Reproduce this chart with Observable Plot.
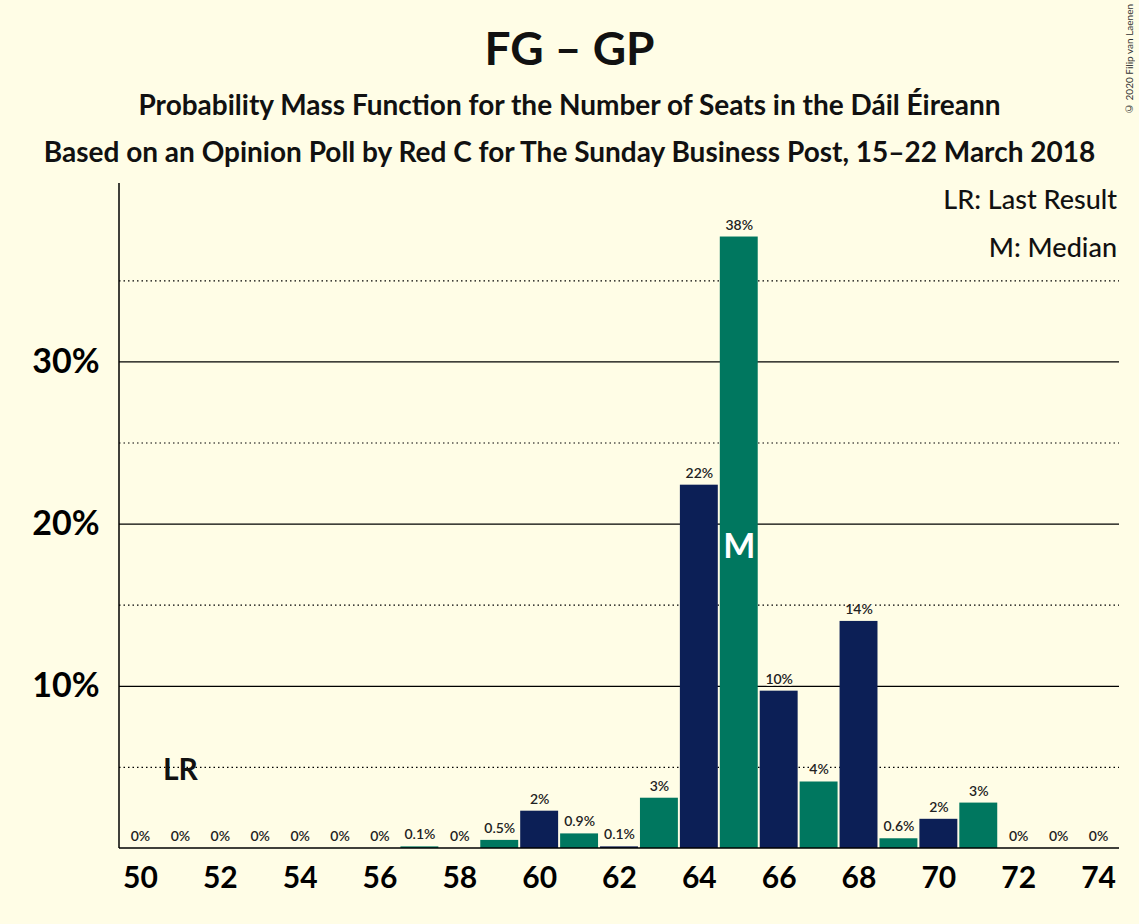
<!DOCTYPE html>
<html><head><meta charset="utf-8">
<script src="https://cdn.jsdelivr.net/npm/d3@7"></script>
<script src="https://cdn.jsdelivr.net/npm/@observablehq/plot@0.6"></script>
<style>
body{margin:0;background:#fffde6;font-family:Lato,sans-serif;}
#wrap{position:relative;width:1139px;height:924px;overflow:hidden}
.t{position:absolute;left:0;width:1139px;text-align:center;font-weight:bold;color:#111}
#copy{position:absolute;right:4px;top:4px;writing-mode:vertical-rl;transform:rotate(180deg);font-size:10px;color:#333}
#chart{position:absolute;left:0;top:175px}
</style></head><body>
<div id="wrap">
<div class="t" style="top:20px;font-size:46px">FG – GP</div>
<div class="t" style="top:87px;font-size:28px">Probability Mass Function for the Number of Seats in the Dáil Éireann</div>
<div class="t" style="top:134px;font-size:28px">Based on an Opinion Poll by Red C for The Sunday Business Post, 15–22 March 2018</div>
<div id="copy">© 2020 Filip van Laenen</div>
<div id="chart"></div>
</div>
<script>
const seats = d3.range(50, 75);
const probs = [0,0,0,0,0,0,0,0.1,0,0.5,2.3,0.9,0.1,3.1,22.4,37.7,9.7,4.1,14.0,0.6,1.8,2.8,0,0,0];
const labels = ["0%","0%","0%","0%","0%","0%","0%","0.1%","0%","0.5%","2%","0.9%","0.1%","3%","22%","38%","10%","4%","14%","0.6%","2%","3%","0%","0%","0%"];
const lastResult = 51;
const median = 65;
const solidTicks = [10, 20, 30];
const dottedTicks = [5, 15, 25, 35];

const data = seats.map((s, i) => ({s, p: probs[i], lab: labels[i]}));
const navy = "#0c1f56", teal = "#00775f";

const chart = Plot.plot({
  width: 1139, height: 749,
  marginLeft: 119, marginRight: 20, marginTop: 8, marginBottom: 76,
  style: {background: "transparent", fontFamily: "Lato, sans-serif", overflow: "visible"},
  x: {type: "band", domain: seats, range: [119, 1119], padding: 0.05, round: false, label: null, axis: null},
  y: {domain: [0, 41], label: null, axis: null},
  marks: [
    Plot.ruleY(dottedTicks, {stroke: "#000", strokeDasharray: "1.5,3", strokeWidth: 1.2}),
    Plot.ruleY(solidTicks, {stroke: "#000", strokeWidth: 1.3}),
    Plot.barY(data, {x: "s", y: "p", fill: d => d.s % 2 === 0 ? navy : teal}),
    Plot.text(data, {x: "s", y: "p", text: "lab", dy: -12, fontSize: 14, fontWeight: 600, fill: "#222",
      stroke: "#fffde6", strokeWidth: 3, paintOrder: "stroke"}),
    Plot.text([median], {x: d => d, y: 18.6, text: ["M"], fill: "white", fontSize: 34, fontWeight: "bold"}),
    Plot.text([lastResult], {x: d => d, y: 4.8, text: ["LR"], fill: "#111", fontSize: 30, fontWeight: "bold"}),
    Plot.axisY({ticks: solidTicks, tickFormat: d => d + "%", tickSize: 0, tickPadding: 20, fontSize: 34, fontWeight: "bold", label: null}),
    Plot.axisX({tickFormat: d => d % 2 === 0 ? d : "", tickSize: 0, tickPadding: 18, fontSize: 30, fontWeight: "bold", label: null})
  ]
});
document.getElementById("chart").appendChild(chart);
const svg = d3.select(chart);
svg.append("line").attr("x1",119).attr("x2",119).attr("y1",8).attr("y2",673).attr("stroke","#000").attr("stroke-width",1.5);
svg.append("line").attr("x1",119).attr("x2",1119).attr("y1",673).attr("y2",673).attr("stroke","#000").attr("stroke-width",1.5);
const leg = svg.append("g").attr("font-size",27).attr("font-weight",500).attr("text-anchor","end").attr("fill","#111");
leg.append("text").attr("x",1117).attr("y",34).text("LR: Last Result");
leg.append("text").attr("x",1117).attr("y",82).text("M: Median");
</script>
</body></html>
